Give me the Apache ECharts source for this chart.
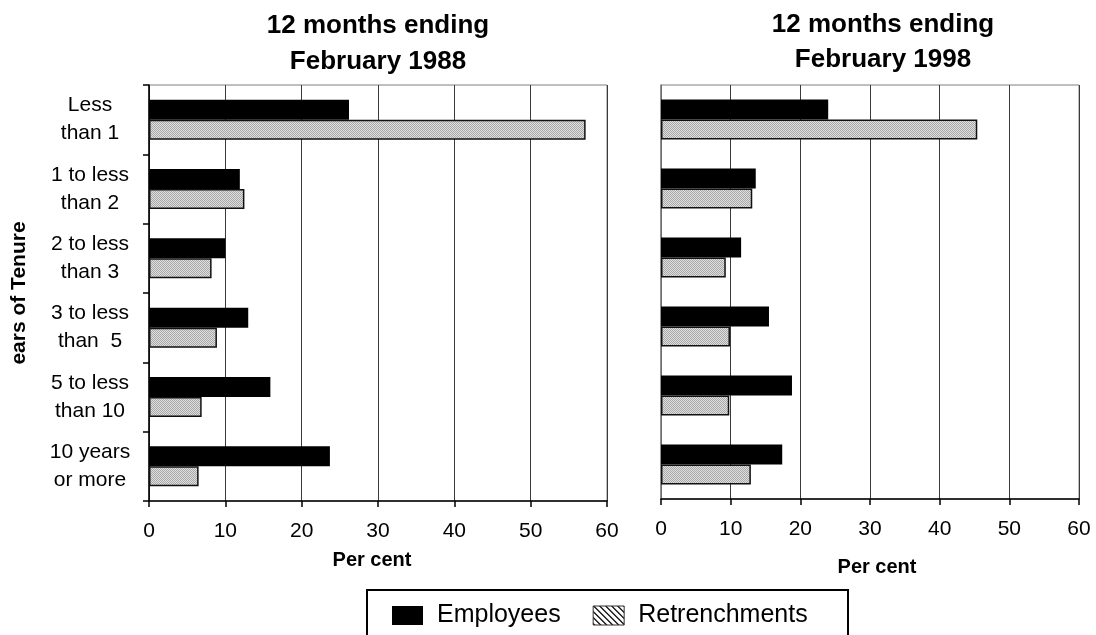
<!DOCTYPE html>
<html>
<head>
<meta charset="utf-8">
<script src="https://cdn.jsdelivr.net/npm/echarts@6/dist/echarts.min.js"></script>
<style>
  html, body { margin: 0; padding: 0; background: #fff; }
  #chart { width: 1096px; height: 635px; }
</style>
</head>
<body>
<div id="chart"></div>
<script>
// Tenure bands (years of service)
const categories = [
  'Less\nthan 1',
  '1 to less\nthan 2',
  '2 to less\nthan 3',
  '3 to less\nthan  5',
  '5 to less\nthan 10',
  '10 years\nor more'
];

// Per cent of each group, 12 months ending February 1988
const employees1988     = [26.2, 11.9, 10.0, 13.0, 15.9, 23.7];
const retrenchments1988 = [57.2, 12.5,  8.2,  8.9,  6.9,  6.5];

// Per cent of each group, 12 months ending February 1998
const employees1998     = [24.0, 13.6, 11.5, 15.5, 18.8, 17.4];
const retrenchments1998 = [45.4, 13.1,  9.3,  9.9,  9.8, 12.9];

const seriesNames = ['Employees', 'Retrenchments'];
const panelTitles = ['12 months ending\nFebruary 1988', '12 months ending\nFebruary 1998'];
const xTickValues = [0, 10, 20, 30, 40, 50, 60];

const FONT = "'Liberation Sans', Arial, Helvetica, sans-serif";

// Fine grey stipple used inside the retrenchment bars
function makeStipple() {
  const c = document.createElement('canvas');
  c.width = 2; c.height = 2;
  const g = c.getContext('2d');
  g.fillStyle = '#dedede';
  g.fillRect(0, 0, 2, 2);
  g.fillStyle = '#a9a9a9';
  g.fillRect(0, 0, 1, 1);
  g.fillRect(1, 1, 1, 1);
  return c;
}

// Coarser diagonal hatch shown in the legend key
function makeHatch() {
  const c = document.createElement('canvas');
  c.width = 6; c.height = 6;
  const g = c.getContext('2d');
  g.fillStyle = '#ffffff';
  g.fillRect(0, 0, 6, 6);
  g.fillStyle = '#222222';
  for (let i = 0; i < 6; i++) {
    g.fillRect(i, i, 1, 1);
    g.fillRect((i + 1) % 6, i, 1, 1);
  }
  return c;
}

const stippleFill = { image: makeStipple(), repeat: 'repeat' };
const hatchFill = { image: makeHatch(), repeat: 'repeat' };

const chart = echarts.init(document.getElementById('chart'));

function xAxisFor(gridIndex, labelMargin) {
  return {
    type: 'value',
    gridIndex: gridIndex,
    min: 0, max: 60, interval: 10,
    axisLine: { show: true, lineStyle: { color: '#000', width: 1.5 } },
    axisTick: { show: true, length: 6, lineStyle: { color: '#000', width: 1.5 } },
    axisLabel: {
      color: '#000', fontFamily: FONT, fontSize: 21, margin: labelMargin,
      formatter: v => xTickValues.includes(v) ? String(v) : ''
    },
    splitLine: { show: true, lineStyle: { color: '#3a3a3a', width: 1 } }
  };
}

function barSeries(name, data, axisIndex, isRetrench) {
  return {
    name: name,
    type: 'bar',
    xAxisIndex: axisIndex,
    yAxisIndex: axisIndex,
    data: data,
    barWidth: 20,
    barGap: '0%',
    itemStyle: isRetrench
      ? { color: stippleFill, borderColor: '#111', borderWidth: 1.5 }
      : { color: '#000', borderColor: '#000', borderWidth: 0 },
    emphasis: { disabled: true }
  };
}

function axisName(x, y) {
  return {
    type: 'text', x: x, y: y,
    style: {
      text: 'Per cent', fontFamily: FONT, fontWeight: 'bold', fontSize: 20, fill: '#000',
      align: 'center', verticalAlign: 'middle'
    }
  };
}

const option = {
  backgroundColor: '#fff',
  animation: false,
  title: [
    {
      text: panelTitles[0], left: 373, top: 3, textAlign: 'center',
      textStyle: { fontFamily: FONT, fontWeight: 'bold', fontSize: 26, lineHeight: 36, color: '#000' }
    },
    {
      text: panelTitles[1], left: 878, top: 2, textAlign: 'center',
      textStyle: { fontFamily: FONT, fontWeight: 'bold', fontSize: 26, lineHeight: 35, color: '#000' }
    }
  ],
  legend: {
    left: 392, top: 603, padding: 0,
    itemWidth: 31, itemHeight: 19, itemGap: 32,
    icon: 'rect',
    selectedMode: false,
    textStyle: { fontFamily: FONT, fontSize: 25, color: '#000', padding: [0, 0, 0, 9] },
    data: [
      { name: seriesNames[0], itemStyle: { color: '#000' } },
      { name: seriesNames[1], itemStyle: { color: hatchFill, borderColor: '#333', borderWidth: 1 } }
    ]
  },
  grid: [
    { left: 149, width: 458, top: 85, height: 416, show: true, borderColor: '#808080', borderWidth: 1, backgroundColor: 'transparent' },
    { left: 661, width: 418, top: 85, height: 414, show: true, borderColor: '#808080', borderWidth: 1, backgroundColor: 'transparent' }
  ],
  xAxis: [xAxisFor(0, 20), xAxisFor(1, 20)],
  yAxis: [
    {
      type: 'category', gridIndex: 0, inverse: true,
      data: categories,
      name: 'ears of Tenure', nameLocation: 'middle', nameGap: 119, nameRotate: 90,
      nameTextStyle: { fontFamily: FONT, fontWeight: 'bold', fontSize: 21, color: '#000' },
      axisLine: { show: true, lineStyle: { color: '#000', width: 1.5 } },
      axisTick: { show: true, length: 6, lineStyle: { color: '#000', width: 1.5 } },
      axisLabel: {
        color: '#000', fontFamily: FONT, fontSize: 21, lineHeight: 28,
        align: 'center', margin: 59
      },
      splitLine: { show: false }
    },
    {
      type: 'category', gridIndex: 1, inverse: true,
      data: categories,
      axisLine: { show: true, lineStyle: { color: '#808080', width: 1.5 } },
      axisTick: { show: false },
      axisLabel: { show: false },
      splitLine: { show: false }
    }
  ],
  series: [
    barSeries(seriesNames[0], employees1988, 0, false),
    barSeries(seriesNames[1], retrenchments1988, 0, true),
    barSeries(seriesNames[0], employees1998, 1, false),
    barSeries(seriesNames[1], retrenchments1998, 1, true)
  ],
  graphic: [
    axisName(372, 560),
    axisName(877, 567),
    {
      // frame around the legend, running off the bottom edge
      type: 'rect', x: 367, y: 590, z: -1,
      shape: { width: 481, height: 60 },
      style: { fill: '#fff', stroke: '#000', lineWidth: 2 }
    }
  ]
};

chart.setOption(option);
</script>
</body>
</html>
